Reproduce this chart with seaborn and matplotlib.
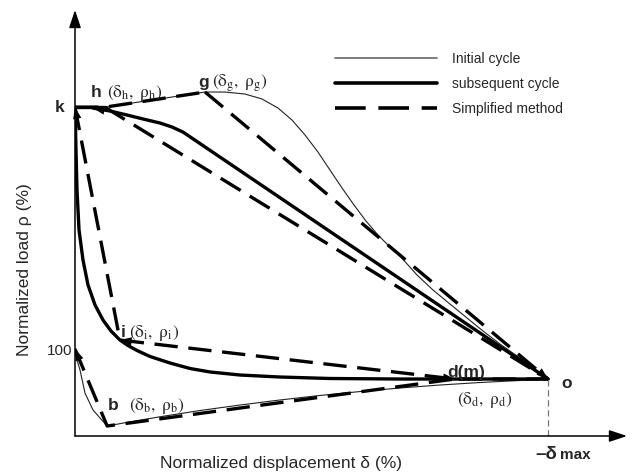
import numpy as np
import pandas as pd
import matplotlib
matplotlib.use('Agg')
import matplotlib.pyplot as plt
from matplotlib.lines import Line2D
import seaborn as sns

# ---------------- data (normalized displacement %, normalized load %) ----------------
point_names = ['k', 'h', 'g', 'i', 'd', 'o', 'p100', 'b']
point_x = [0.0, 6.3, 27.5, 9.5, 80.3, 100.0, 0.0, 6.8]
point_y = [378.0, 378.0, 395.4, 110.3, 65.5, 65.5, 100.0, 11.5]

# simplified method: polylines through key points
simplified_paths = [['k', 'h', 'g'], ['g', 'o'], ['h', 'o'],
                    ['k', 'i', 'd', 'o'], ['p100', 'b', 'd']]

# initial cycle (thin line)
init_top_x = [0.0, 6.3, 27.5]
init_top_y = [378.0, 378.0, 395.4]
init_fall_x = [27.48, 31.71, 35.94, 39.53, 42.92, 45.88, 48.63, 51.37, 53.91, 56.45, 58.99, 61.52,
               64.06, 66.60, 68.71, 72.30, 75.69, 79.28, 82.88, 86.26, 89.85, 93.45, 96.83, 100.0]
init_fall_y = [395.4, 395.4, 393.1, 387.4, 377.0, 363.2, 346.0, 326.4, 305.7, 285.1, 265.5, 247.1,
               231.0, 217.2, 206.9, 185.1, 167.8, 151.7, 135.6, 120.7, 105.7, 92.0, 78.2, 65.5]
init_drop_x = [0.0, 0.42, 1.06, 2.11, 3.81, 5.29, 6.8]
init_drop_y = [100.0, 87.4, 75.9, 49.4, 29.9, 20.7, 11.5]
init_rise_x = [6.8, 11.63, 17.97, 26.43, 34.88, 43.34, 51.80, 60.25, 68.71, 77.17, 85.62, 94.08, 100.0]
init_rise_y = [11.5, 16.3, 22.1, 29.3, 35.6, 41.4, 46.6, 51.1, 55.2, 58.6, 61.5, 63.8, 65.5]

# subsequent cycle (thick line)
sub_unload_x = [100.0, 68.71, 53.91, 43.34, 34.88, 28.54, 24.31, 20.08, 15.86, 13.11, 11.21, 9.51,
                7.61, 5.92, 4.23, 2.75, 1.69, 0.85, 0.42, 0.21, 0.0]
sub_unload_y = [65.5, 65.5, 66.1, 67.8, 70.1, 73.6, 77.6, 83.9, 91.4, 98.3, 104.0, 110.3,
                120.7, 133.3, 150.6, 173.6, 202.3, 236.8, 282.8, 328.7, 378.0]
sub_top_x = [0.0, 6.3]
sub_top_y = [378.0, 378.0]
sub_reload_x = [3.81, 7.40, 10.99, 14.38, 17.97, 20.51, 22.83, 100.0]
sub_reload_y = [377.0, 373.6, 369.0, 364.4, 359.8, 355.2, 349.4, 65.5]

legend_labels = ['Initial cycle', 'subsequent cycle', 'Simplified method']

# ---------------- build tables ----------------
P = {n: (x, y) for n, x, y in zip(point_names, point_x, point_y)}


def seg_frame(xs, ys, seg):
    return pd.DataFrame({'x': xs, 'y': ys, 'seg': seg})


init_df = pd.concat([seg_frame(init_top_x, init_top_y, 0),
                     seg_frame(init_fall_x, init_fall_y, 1),
                     seg_frame(init_drop_x, init_drop_y, 2),
                     seg_frame(init_rise_x, init_rise_y, 3)], ignore_index=True)
sub_df = pd.concat([seg_frame(sub_unload_x, sub_unload_y, 0),
                    seg_frame(sub_top_x, sub_top_y, 1),
                    seg_frame(sub_reload_x, sub_reload_y, 2)], ignore_index=True)
simp_df = pd.concat([seg_frame([P[n][0] for n in path], [P[n][1] for n in path], s)
                     for s, path in enumerate(simplified_paths)], ignore_index=True)

# ---------------- style ----------------
sns.set_theme(style='white')
plt.rcParams['font.family'] = ['Liberation Sans', 'DejaVu Sans']
plt.rcParams['mathtext.fontset'] = 'stix'

fig = plt.figure(figsize=(6.34, 4.73), dpi=100)
ax = fig.add_axes([75 / 634, 37 / 473, 552 / 634, 426 / 473])
ax.set_xlim(0, 116.7)
ax.set_ylim(0, 489.7)
for sp in ax.spines.values():
    sp.set_visible(False)

DASH = (0, (7, 3.2))
sns.lineplot(data=init_df, x='x', y='y', units='seg', estimator=None, sort=False,
             color='#222222', linewidth=0.8, solid_joinstyle='round', ax=ax)
sns.lineplot(data=simp_df, x='x', y='y', units='seg', estimator=None, sort=False,
             color='black', linewidth=2.4, linestyle=DASH, ax=ax)
sns.lineplot(data=sub_df, x='x', y='y', units='seg', estimator=None, sort=False,
             color='black', linewidth=2.4, solid_joinstyle='round', ax=ax)

# thin dashed guide from o down to axis
ax.plot([P['o'][0], P['o'][0]], [0, P['o'][1]], color='#777777', lw=0.9, ls=(0, (5, 3)))

# axes with arrows
arrow_kw = dict(arrowstyle='-|>,head_length=0.9,head_width=0.3', color='black', lw=1.1,
                shrinkA=0, shrinkB=0)
ax.annotate('', xy=(1, 0), xytext=(0, 0), xycoords='axes fraction', arrowprops=arrow_kw)
ax.annotate('', xy=(0, 1), xytext=(0, 0), xycoords='axes fraction', arrowprops=arrow_kw)


# direction arrowheads on the loop
def head(tip, frm, frac=0.04):
    tx, ty = tip
    fx, fy = frm
    ax.annotate('', xy=(tx, ty), xytext=(tx + (fx - tx) * frac, ty + (fy - ty) * frac),
                arrowprops=dict(arrowstyle='-|>,head_length=0.7,head_width=0.25',
                                color='black', lw=0, shrinkA=0, shrinkB=0))


head(P['o'], P['g'], 0.08)
head(P['p100'], P['b'], 0.25)
head(P['k'], P['i'], 0.08)
head(P['d'], P['i'], 0.1)
head(P['i'], P['d'], 0.06)
head((sub_reload_x[0], sub_reload_y[0]), (sub_reload_x[3], sub_reload_y[3]), 0.9)

# ticks
ax.set_xticks([])
ax.set_yticks([P['p100'][1]])
ax.set_yticklabels(['100'], fontsize=11)
ax.tick_params(axis='y', length=0, pad=2)

ax.set_xlabel('Normalized displacement δ (%)', fontsize=12.5, va='center')
ax.set_ylabel('Normalized load ρ (%)', fontsize=12.5, va='center')
ax.xaxis.set_label_coords((281 - 75) / 552, -(463 - 436) / 426)
ax.yaxis.set_label_coords(-(75 - 25) / 552, (436 - 270) / 426)


# point labels
def lab(name, txt, dx, dy, ha='left', va='baseline', size=12.5, math=False):
    kw = dict(textcoords='offset pixels', ha=ha, va=va, annotation_clip=False)
    if math:
        ax.annotate(txt, xy=P[name], xytext=(dx, dy), fontsize=12.5, **kw)
    else:
        ax.annotate(txt, xy=P[name], xytext=(dx, dy), fontsize=size, fontweight='bold', **kw)


def coord(s):
    return r'$\left(\mathrm{\delta_{%s},\ \rho_{%s}}\right)$' % (s, s)


lab('k', 'k', -10, 0, ha='right', va='center')
lab('h', 'h', -9, 10, ha='center')
lab('h', coord('h'), 2, 10, math=True)
lab('g', 'g', -1, 5, ha='center')
lab('g', coord('g'), 7, 5, math=True)
lab('i', 'i', 1, 3)
lab('i', coord('i'), 9, 3, math=True)
lab('b', 'b', 1, 16)
lab('b', coord('b'), 22, 16, math=True)
lab('d', 'd(m)', -8, 2)
lab('d', coord('d'), 30, -25, ha='center', math=True)
lab('o', 'o', 13, -9)

# -δ max
ax.annotate('–δ', xy=(P['o'][0], 0), xytext=(-13, -23), textcoords='offset pixels',
            ha='left', va='baseline', fontsize=13.5, fontweight='bold', annotation_clip=False)
ax.annotate('max', xy=(P['o'][0], 0), xytext=(12, -23), textcoords='offset pixels',
            ha='left', va='baseline', fontsize=11, fontweight='bold', annotation_clip=False)

# legend
handles = [Line2D([], [], color='#666666', lw=1.2),
           Line2D([], [], color='black', lw=2.6),
           Line2D([], [], color='black', lw=2.6, ls=(0, (8.5, 3.5)))]
ax.legend(handles, legend_labels, loc='upper left', frameon=False, fontsize=10,
          bbox_to_anchor=((335 - 75) / 552, (436 - 52) / 426), borderaxespad=0,
          borderpad=0, handlelength=7.35, handletextpad=1.1, labelspacing=0.8)

fig.savefig('out.png', dpi=100)
